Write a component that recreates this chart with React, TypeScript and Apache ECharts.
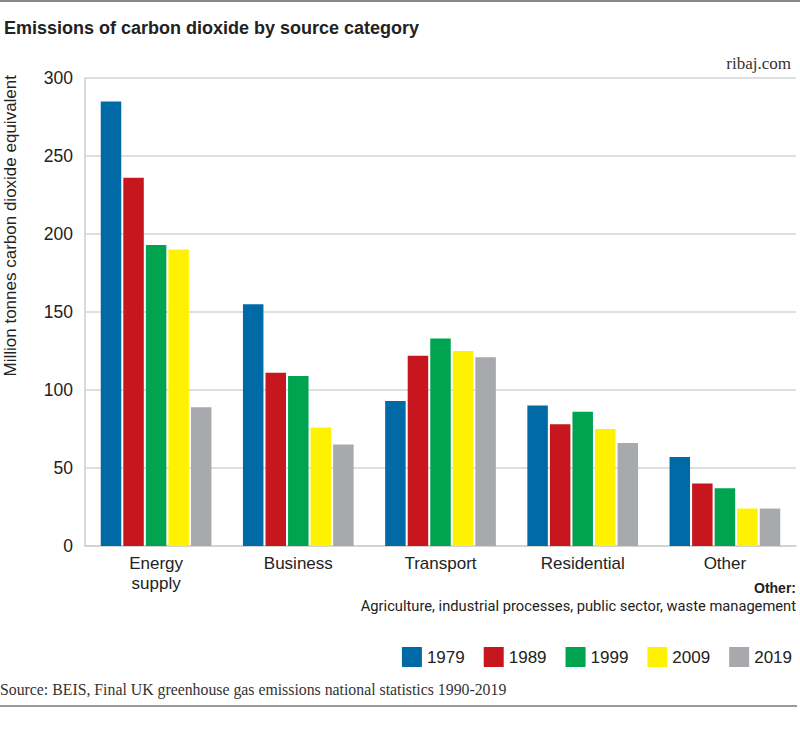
import React, { useEffect, useRef } from "react";
import * as echarts from "echarts";

const categories = ["Energy\nsupply", "Business", "Transport", "Residential", "Other"];
const years = ["1979", "1989", "1999", "2009", "2019"];
const values1979 = [285, 155, 93, 90, 57];
const values1989 = [236, 111, 122, 78, 40];
const values1999 = [193, 109, 133, 86, 37];
const values2009 = [190, 76, 125, 75, 24];
const values2019 = [89, 65, 121, 66, 24];
const seriesValues = [values1979, values1989, values1999, values2009, values2019];
const colors = ["#006aa7", "#c8161e", "#00a34f", "#fff200", "#a7a9ac"];
const yTicks = [0, 50, 100, 150, 200, 250, 300];

const title = "Emissions of carbon dioxide by source category";
const yName = "Million tonnes carbon dioxide equivalent";
const noteHead = "Other:";
const noteBody = "Agriculture, industrial processes, public sector, waste management";
const source = "Source: BEIS, Final UK greenhouse gas emissions national statistics 1990-2019";
const brand = "ribaj.com";

const SANS = "'Liberation Sans', Arial, sans-serif";
const SERIF = "'Liberation Serif', 'Times New Roman', serif";

export default function App() {
  const ref = useRef<HTMLDivElement>(null);
  useEffect(() => {
    if (!ref.current) return;
    const chart = echarts.init(ref.current, null, { renderer: "svg" });
    chart.setOption({
      animation: false,
      backgroundColor: "#ffffff",
      grid: { left: 85, right: 4, top: 78, bottom: 187, containLabel: false },
      legend: {
        data: years,
        right: 3,
        top: 642,
        itemWidth: 20,
        itemHeight: 20,
        itemGap: 19,
        icon: "rect",
        textStyle: { fontFamily: SANS, fontSize: 17, color: "#222" },
      },
      xAxis: {
        type: "category",
        data: categories,
        axisLine: { show: true, lineStyle: { color: "#cfcfcf", width: 1.5 } },
        axisTick: { show: false },
        axisLabel: {
          fontFamily: SANS,
          fontSize: 17,
          color: "#222",
          lineHeight: 20,
          margin: 7,
          interval: 0,
        },
      },
      yAxis: {
        type: "value",
        min: yTicks[0],
        max: yTicks[yTicks.length - 1],
        interval: 50,
        axisLine: { show: true, lineStyle: { color: "#cfcfcf", width: 1.5 } },
        axisTick: { show: false },
        splitLine: { show: true, lineStyle: { color: "#d4d4d4", width: 1.5 } },
        axisLabel: {
          fontFamily: SANS,
          fontSize: 17.5,
          color: "#222",
          margin: 12,
          verticalAlign: "middle",
          padding: [10, 0, 0, 0],
        },
      },
      series: years.map((y, i) => ({
        name: y,
        type: "bar",
        data: seriesValues[i],
        barWidth: 20.5,
        barGap: "10%",
        itemStyle: { color: colors[i] },
      })),
      color: colors,
      graphic: [
        { type: "line", shape: { x1: 0, y1: 1, x2: 800, y2: 1 }, style: { stroke: "#888", lineWidth: 2 } },
        {
          type: "text",
          x: 4,
          y: 28,
          style: { text: title, font: `bold 18px ${SANS}`, fill: "#222", textVerticalAlign: "middle" },
        },
        {
          type: "text",
          x: 791,
          y: 63,
          style: { text: brand, font: `17px ${SERIF}`, fill: "#333", textAlign: "right", textVerticalAlign: "middle" },
        },
        {
          type: "text",
          x: 10,
          y: 75,
          rotation: Math.PI / 2,
          style: { text: yName, font: `17px ${SANS}`, fill: "#222", textAlign: "right", textVerticalAlign: "middle" },
        },
        {
          type: "text",
          x: 796,
          y: 588,
          style: { text: noteHead, font: `bold 14px ${SANS}`, fill: "#222", textAlign: "right", textVerticalAlign: "middle" },
        },
        {
          type: "text",
          x: 796,
          y: 606,
          style: { text: noteBody, font: `14.7px Roboto, ${SANS}`, fill: "#222", textAlign: "right", textVerticalAlign: "middle" },
        },
        {
          type: "text",
          x: 0,
          y: 689,
          style: { text: source, font: `15.8px ${SERIF}`, fill: "#333", textVerticalAlign: "middle" },
        },
        { type: "line", shape: { x1: 0, y1: 706, x2: 797, y2: 706 }, style: { stroke: "#999", lineWidth: 2 } },
      ],
    });
    return () => chart.dispose();
  }, []);
  return (
    <div
      ref={ref}
      style={{ position: "absolute", left: 0, top: 0, width: 800, height: 733, background: "#fff" }}
    />
  );
}
